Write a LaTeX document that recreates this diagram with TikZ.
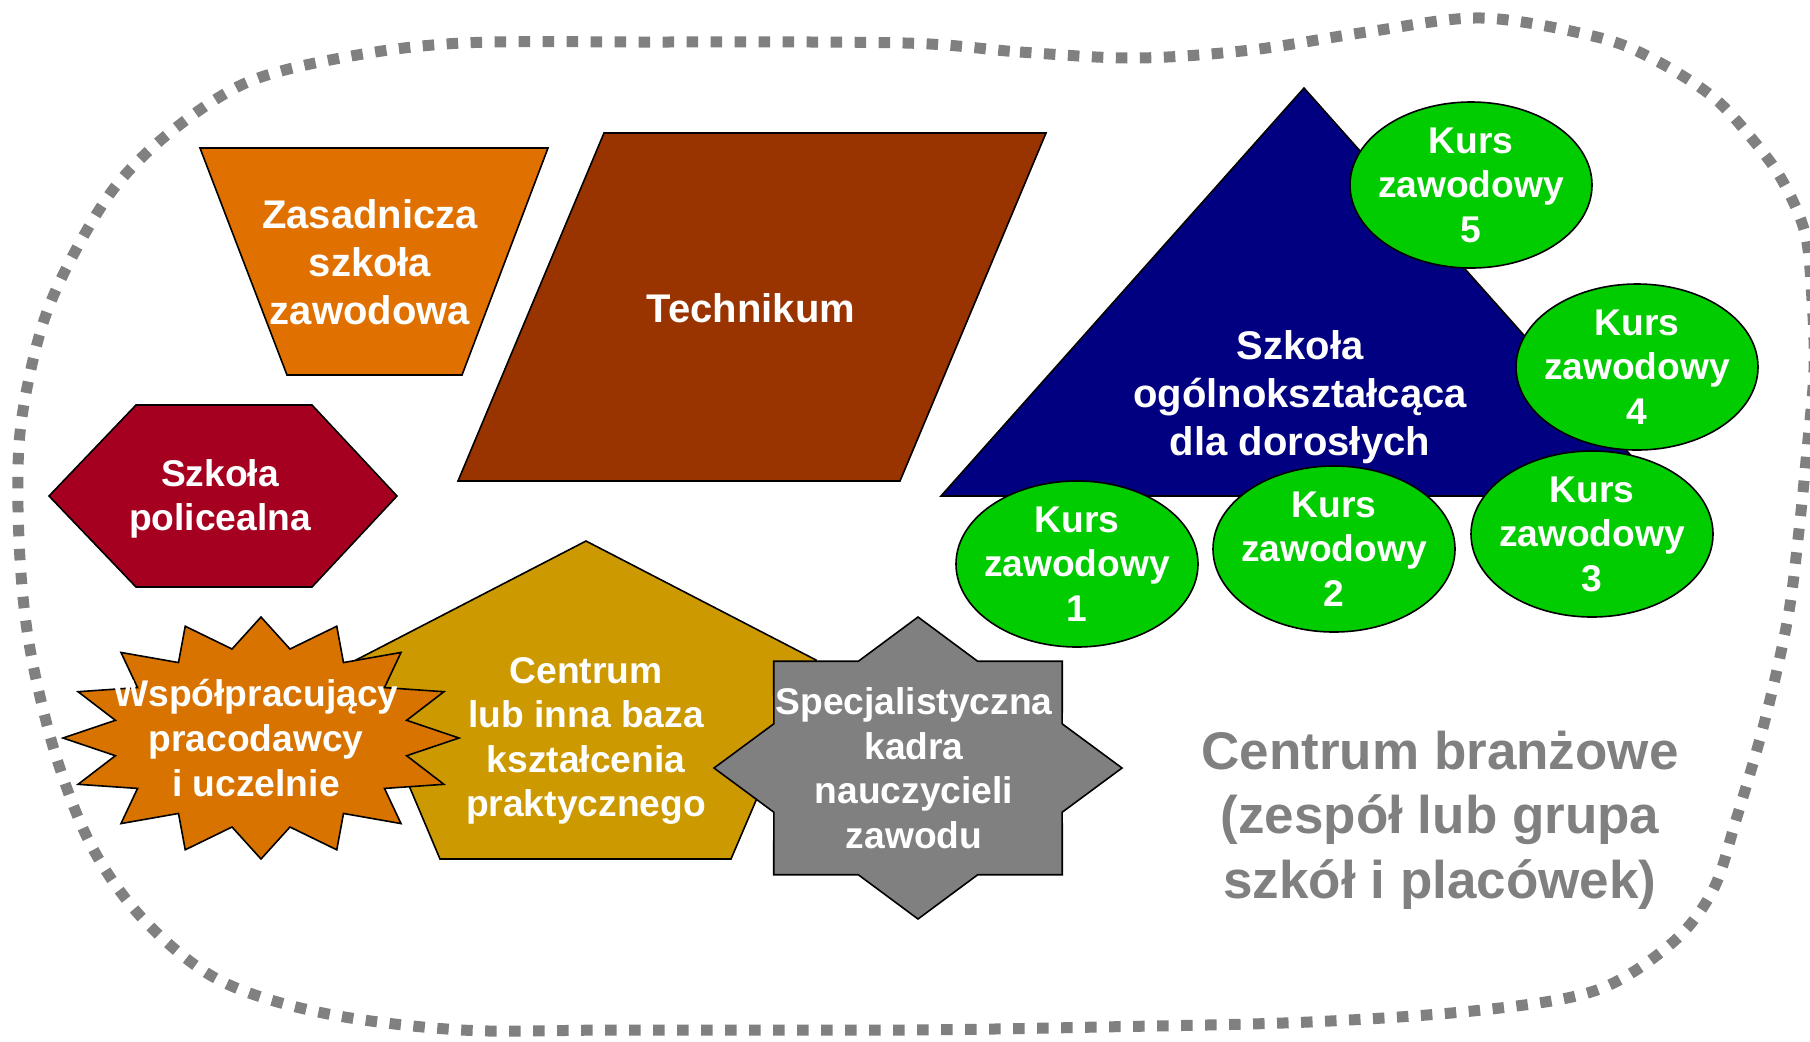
\documentclass[tikz,border=0pt]{standalone}
\usepackage{fontspec}
\setmainfont{Liberation Sans}
\usepackage{tikz}
\usetikzlibrary{positioning}

\definecolor{zszorange}{RGB}{224,112,0}
\definecolor{techbrown}{RGB}{153,51,0}
\definecolor{policred}{RGB}{166,0,33}
\definecolor{centrgold}{RGB}{204,153,0}
\definecolor{wsporange}{RGB}{217,115,0}
\definecolor{kadragray}{RGB}{128,128,128}
\definecolor{doronavy}{RGB}{0,0,128}
\definecolor{kursgreen}{RGB}{0,204,0}
\definecolor{bordgray}{RGB}{128,128,128}

\begin{document}
\begin{tikzpicture}[x=0.5pt, y=-0.5pt,
        shp/.style={draw=black, line width=0.8pt, line join=miter},
        lbl/.style={text=white, align=center, inner sep=0pt, font=\fontsize{18.6}{22.3}\selectfont\bfseries},
        lblbig/.style={lbl, font=\fontsize{20}{24}\selectfont\bfseries},
        kurs/.style={shp, fill=kursgreen}]
    \useasboundingbox (0,0) rectangle (1810,1041);

    \draw[bordgray, line width=5.5pt, dash pattern=on 5.75pt off 6.25pt]
        plot[smooth cycle, tension=0.55] coordinates {
            (905,43) (1020,52) (1136,58) (1251,50) (1367,32) (1482,18) (1597,37)
            (1655,60) (1713,97) (1753,140) (1782,180) (1805,233) (1812,300)
            (1814,370) (1807,450) (1799,530) (1788,617) (1765,720) (1736,820)
            (1713,890) (1672,943) (1597,990) (1482,1010) (1309,1022) (1100,1027)
            (905,1030) (620,1030) (462,1030) (323,1013) (219,980) (144,920)
            (92,847) (55,753) (29,643) (19,540) (20,433) (40,333) (69,263)
            (115,187) (173,130) (248,82) (346,57) (462,43) (650,42)};

    \draw[shp, fill=zszorange] (200,148) -- (548,148) -- (462,375) -- (287,375) -- cycle;
    \draw[shp, fill=techbrown] (604,133) -- (1046,133) -- (900,481) -- (458,481) -- cycle;
    \draw[shp, fill=policred] (136,405) -- (312,405) -- (397,496) -- (312,587) -- (136,587) -- (49,496) -- cycle;
    \draw[shp, fill=centrgold] (586,541) -- (816,660) -- (731,859) -- (440,859) -- (356,660) -- cycle;

    \draw[shp, fill=wsporange] (261,617)
        \foreach \k [evaluate=\k as \rr using {1-0.25*mod(\k,2)}] in {1,...,31} {
            -- ({261+198*\rr*cos(-90+11.25*\k)}, {738+121*\rr*sin(-90+11.25*\k)})
        } -- cycle;
    \draw[shp, fill=kadragray] (918,617)
        \foreach \k [evaluate=\k as \rr using {1-0.235*mod(\k,2)}] in {1,...,15} {
            -- ({918+204*\rr*cos(-90+22.5*\k)}, {768+151*\rr*sin(-90+22.5*\k)})
        } -- cycle;

    \draw[shp, fill=doronavy] (1304,88) -- (1667,496) -- (941,496) -- cycle;

    \foreach \n/\cx/\cy in {1/1077/564, 2/1334/549, 3/1592/534, 4/1637/367, 5/1471/185} {
        \draw[kurs] (\cx,\cy) ellipse [x radius=60.5pt, y radius=41.5pt];
        \node[lbl] (kurs\n) at (\cx,\cy) {Kurs\\zawodowy\\\n};
    }

    \node[lblbig] (zasadnicza) at (370,262) {Zasadnicza\\szkoła\\zawodowa};
    \node[lblbig] (technikum) at (751,308) {Technikum};
    \node[lbl] (policealna) at (220,499) {Szkoła\\policealna};
    \node[lbl] (centrum) at (586,741) {Centrum\\lub inna baza\\kształcenia\\praktycznego};
    \node[lbl] (pracodawcy) at (256,738) {Współpracujący\\pracodawcy\\i uczelnie};
    \node[lbl] (kadra) at (914,768) {Specjalistyczna\\kadra\\nauczycieli\\zawodu};
    \node[lblbig] (dorosli) at (1300,397) {Szkoła\\ogólnokształcąca\\dla dorosłych};

    \node[text=bordgray, align=center, inner sep=0pt, font=\fontsize{26.5}{32.25}\selectfont\bfseries]
        (branzowe) at (1440,820) {Centrum branżowe\\(zespół lub grupa\\szkół i placówek)};
\end{tikzpicture}
\end{document}
